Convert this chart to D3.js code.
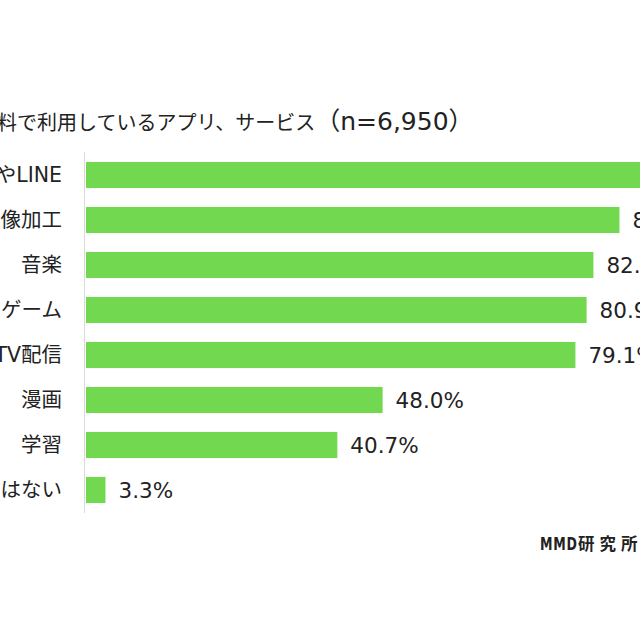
<!DOCTYPE html>
<html><head><meta charset="utf-8">
<script src="https://cdn.jsdelivr.net/npm/d3@7"></script>
<style>
html,body{margin:0;padding:0;background:#fff;}
svg{display:block;}
text{font-family:"DejaVu Sans","Noto Sans CJK JP",sans-serif;fill:#222;}
</style></head>
<body><svg id="c" width="640" height="640"></svg>
<script>
const categories = ["SNSやLINE","写真・画像加工","音楽","ゲーム","動画・TV配信","漫画","学習","特にはない"];
const values = [91.7, 86.2, 82.0, 80.9, 79.1, 48.0, 40.7, 3.3];
const titleMain = "無料で利用しているアプリ、サービス";
const titleN = "（n=6,950）";
const titlePrefix = "無料";
const sourceLatin = "MMD";
const sourceCJK = "研究所";

const svg = d3.select("#c");
const x = d3.scaleLinear().domain([0, 100]).range([85, 705]);
const y = d3.scaleBand().domain(categories).range([152.5, 512.5]).paddingInner(0.42).paddingOuter(0.21);

// title
const t = svg.append("text").attr("y", 130).style("font-size", "20px").text(titlePrefix);
const pw = t.node().getComputedTextLength();
t.text(null).attr("x", 17 - pw);
t.append("tspan").text(titleMain);
t.append("tspan").style("font-size", "25px").text(titleN);

// axis line
svg.append("line").attr("x1", 84.5).attr("x2", 84.5).attr("y1", 152).attr("y2", 513)
  .attr("stroke", "#d9d9d9").attr("stroke-width", 1);

// bars
svg.selectAll("rect.bar").data(categories).join("rect").attr("class", "bar")
  .attr("x", x(0) + 1).attr("y", d => y(d))
  .attr("width", (d, i) => x(values[i]) - x(0) - 1).attr("height", y.bandwidth())
  .attr("fill", "#72d84f");

// category labels
svg.selectAll("text.cat").data(categories).join("text").attr("class", "cat")
  .attr("x", 62).attr("y", d => y(d) + y.bandwidth() / 2).attr("dy", "0.36em")
  .attr("text-anchor", "end").style("font-size", "20.5px").text(d => d);

// value labels
svg.selectAll("text.val").data(categories).join("text").attr("class", "val")
  .attr("x", (d, i) => x(values[i]) + 13).attr("y", d => y(d) + y.bandwidth() / 2).attr("dy", "0.36em")
  .style("font-size", "21.5px").text((d, i) => values[i].toFixed(1) + "%");

// source
svg.append("text").attr("transform", "translate(540,550) scale(0.74,1)")
  .style("font-weight", "bold").style("font-size", "17px").style("letter-spacing", "1px").text(sourceLatin);
svg.append("text").attr("x", 578).attr("y", 550).style("font-weight", "bold").style("font-size", "16.5px")
  .style("letter-spacing", "5px").text(sourceCJK);
</script></body></html>
